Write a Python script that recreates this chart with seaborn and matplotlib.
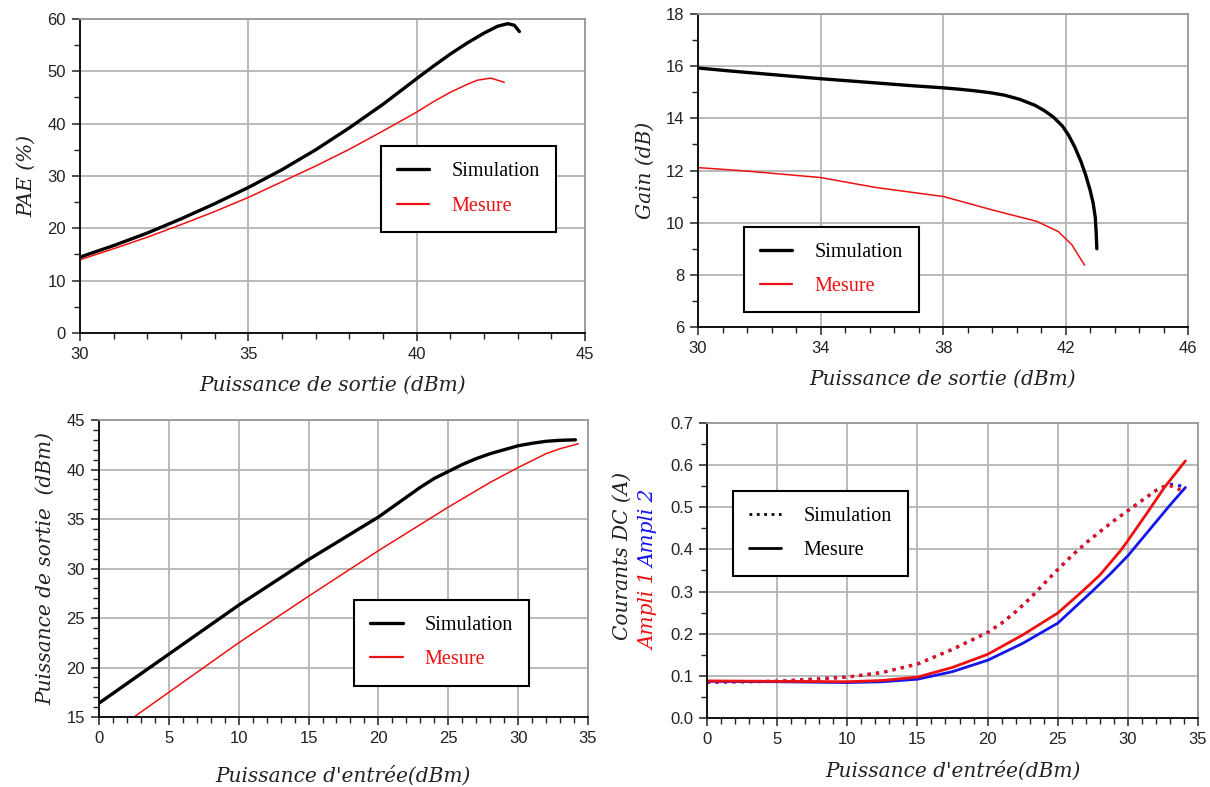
import numpy as np
import pandas as pd
import matplotlib
matplotlib.use("Agg")
import matplotlib.pyplot as plt
from matplotlib.lines import Line2D
from matplotlib.ticker import MultipleLocator, FixedLocator, FormatStrFormatter
import seaborn as sns

# --- PAE vs Pout
pae_sim_x = [30, 31, 32, 33, 34, 35, 36, 37, 38, 39, 40, 40.5, 41, 41.5, 42, 42.4, 42.7, 42.9, 43.05]
pae_sim_y = [14.5, 16.7, 19.1, 21.8, 24.7, 27.8, 31.2, 35.0, 39.2, 43.7, 48.6, 51.0, 53.3, 55.4, 57.3, 58.6, 59.1, 58.8, 57.6]
pae_mes_x = [30, 31, 32, 33, 34, 35, 36, 37, 38, 39, 40, 40.5, 41, 41.5, 41.8, 42.2, 42.6]
pae_mes_y = [14.0, 16.1, 18.3, 20.7, 23.2, 25.9, 28.9, 31.9, 35.1, 38.6, 42.2, 44.2, 46.0, 47.5, 48.3, 48.7, 47.9]

# --- Gain vs Pout
gain_sim_x = [30, 31, 32, 33, 34, 35, 36, 37, 38, 38.5, 39, 39.5, 40, 40.5, 41, 41.3, 41.6, 41.9,
              42.1, 42.3, 42.5, 42.65, 42.8, 42.9, 42.97, 43.0, 43.02]
gain_sim_y = [15.93, 15.82, 15.72, 15.62, 15.52, 15.43, 15.34, 15.25, 15.17, 15.12, 15.06, 14.99, 14.89,
              14.73, 14.5, 14.3, 14.05, 13.7, 13.35, 12.9, 12.35, 11.85, 11.25, 10.75, 10.2, 9.6, 9.0]
gain_mes_x = [30, 31.37, 34, 35.8, 38.02, 39.6, 41.06, 41.76, 42.2, 42.62]
gain_mes_y = [12.11, 12.0, 11.73, 11.35, 11.0, 10.49, 10.05, 9.66, 9.16, 8.37]

# --- Pout vs Pin
pout_sim_x = [0, 5, 10, 15, 20, 23, 24, 25, 26, 27, 28, 29, 30, 31, 32, 33, 34.1]
pout_sim_y = [16.4, 21.35, 26.3, 30.9, 35.2, 38.2, 39.1, 39.8, 40.5, 41.1, 41.6, 42.0, 42.4, 42.65, 42.85, 42.95, 43.0]
pout_mes_x = [2.5, 5, 10, 15, 20, 25, 28, 29, 30, 31, 32, 33, 34.3]
pout_mes_y = [15.0, 17.5, 22.5, 27.2, 31.8, 36.2, 38.7, 39.45, 40.2, 40.9, 41.6, 42.1, 42.6]

# --- DC currents vs Pin (Ampli 1 / Ampli 2)
i1_mes_x = [0, 5, 10, 12.5, 15, 17.5, 20, 22.5, 25, 26.6, 28.0, 29.5, 30, 31.4, 32.6, 34.1]
i1_mes_y = [0.088, 0.087, 0.086, 0.089, 0.097, 0.12, 0.151, 0.197, 0.249, 0.296, 0.339, 0.398, 0.421, 0.488, 0.547, 0.610]
i2_mes_x = [0, 5, 10, 12.5, 15, 17.5, 20, 22.5, 25, 27.5, 28.75, 30, 31, 32, 33, 34.1]
i2_mes_y = [0.087, 0.086, 0.084, 0.086, 0.092, 0.11, 0.137, 0.177, 0.225, 0.302, 0.342, 0.385, 0.425, 0.465, 0.505, 0.547]
sim_x = [0, 5, 10, 12.5, 15, 17.5, 20, 21, 22, 23, 24, 25, 26, 27, 28, 29, 30, 31, 32, 32.8, 33.3]
sim_y = [0.085, 0.087, 0.097, 0.108, 0.128, 0.163, 0.203, 0.225, 0.252, 0.283, 0.318, 0.352, 0.385,
         0.415, 0.442, 0.468, 0.492, 0.516, 0.540, 0.553, 0.555]
i1_sim_x = sim_x + [34.0]
i1_sim_y = sim_y[:-1] + [0.548, 0.537]
i2_sim_x = sim_x + [34.1]
i2_sim_y = sim_y + [0.547]

sns.set_style("white")
plt.rcParams["font.family"] = ["Liberation Sans", "DejaVu Sans"]

fig = plt.figure(figsize=(12.1, 7.87), dpi=100)
ax1 = fig.add_axes([0.0661, 0.5769, 0.4174, 0.399])
ax2 = fig.add_axes([0.5769, 0.5845, 0.405, 0.3977])
ax3 = fig.add_axes([0.0818, 0.0889, 0.4041, 0.3774])
ax4 = fig.add_axes([0.5843, 0.0877, 0.4058, 0.3748])

RED = "#ee1111"
BLUE = "#1515ee"
lab_font = dict(family="DejaVu Serif", style="italic", fontsize=14.5, color="#222222")
leg_font = {"family": "Liberation Serif", "size": 14.5}


def style(ax, xlim, ylim, xmaj, xmin, ymaj, ymin):
    ax.set_xlim(*xlim)
    ax.set_ylim(*ylim)
    ax.xaxis.set_major_locator(FixedLocator(np.arange(xlim[0], xlim[1] + 1e-6, xmaj)))
    ax.xaxis.set_minor_locator(FixedLocator(np.arange(xlim[0], xlim[1] + 1e-6, xmin)))
    ax.yaxis.set_major_locator(MultipleLocator(ymaj))
    ax.yaxis.set_minor_locator(MultipleLocator(ymin))
    ax.grid(True, which="major", color="#b4b4b4", lw=1.3)
    ax.set_axisbelow(True)
    ax.tick_params(which="both", direction="out", bottom=True, left=True,
                   labelsize=12, colors="#222222", pad=4)
    ax.tick_params(which="major", length=6, width=1.1)
    ax.tick_params(which="minor", length=4, width=1.0)
    for s in ["left", "bottom"]:
        ax.spines[s].set_color("#111111")
        ax.spines[s].set_linewidth(1.4)
    for s in ["top", "right"]:
        ax.spines[s].set_color("#999999")
        ax.spines[s].set_linewidth(1.3)


def legend(ax, handles, labels, colors, loc):
    leg = ax.legend(handles, labels, loc="upper left", bbox_to_anchor=loc, prop=leg_font,
                    frameon=True, fancybox=False, handlelength=1.6, handletextpad=1.1,
                    borderpad=0.8, labelspacing=0.75, borderaxespad=0)
    leg.get_frame().set_edgecolor("black")
    leg.get_frame().set_linewidth(1.5)
    leg.get_frame().set_alpha(1)
    for t, c in zip(leg.get_texts(), colors):
        t.set_color(c)


sim_mes = [Line2D([], [], color="black", lw=2.4), Line2D([], [], color=RED, lw=1.6)]

# panel 1
sns.lineplot(x=pae_sim_x, y=pae_sim_y, ax=ax1, color="black", lw=2.4)
sns.lineplot(x=pae_mes_x, y=pae_mes_y, ax=ax1, color=RED, lw=1.1)
style(ax1, (30, 45), (0, 60), 5, 1, 10, 5)
ax1.set_xlabel("Puissance de sortie (dBm)", labelpad=10, **lab_font)
ax1.set_ylabel("PAE (%)", labelpad=8, **lab_font)
legend(ax1, sim_mes, ["Simulation", "Mesure"], ["black", RED], (0.596, 0.595))

# panel 2
sns.lineplot(x=gain_sim_x, y=gain_sim_y, ax=ax2, color="black", lw=2.4, sort=False)
sns.lineplot(x=gain_mes_x, y=gain_mes_y, ax=ax2, color=RED, lw=1.1, sort=False)
style(ax2, (30, 46), (6, 18), 4, 0.8, 2, 1)
ax2.set_xlabel("Puissance de sortie (dBm)", labelpad=10, **lab_font)
ax2.set_ylabel("Gain (dB)", labelpad=8, **lab_font)
legend(ax2, sim_mes, ["Simulation", "Mesure"], ["black", RED], (0.094, 0.32))

# panel 3
sns.lineplot(x=pout_sim_x, y=pout_sim_y, ax=ax3, color="black", lw=2.4)
sns.lineplot(x=pout_mes_x, y=pout_mes_y, ax=ax3, color=RED, lw=1.1)
style(ax3, (0, 35), (15, 45), 5, 1, 5, 1)
ax3.set_xlabel("Puissance d'entrée(dBm)", labelpad=14, **lab_font)
ax3.set_ylabel("Puissance de sortie  (dBm)", labelpad=8, **lab_font)
legend(ax3, sim_mes, ["Simulation", "Mesure"], ["black", RED], (0.522, 0.394))

# panel 4
sns.lineplot(x=i2_sim_x, y=i2_sim_y, ax=ax4, color=BLUE, lw=2.3, linestyle=":")
sns.lineplot(x=i1_sim_x, y=i1_sim_y, ax=ax4, color=RED, lw=2.3, linestyle=":")
sns.lineplot(x=i2_mes_x, y=i2_mes_y, ax=ax4, color=BLUE, lw=2.0)
sns.lineplot(x=i1_mes_x, y=i1_mes_y, ax=ax4, color=RED, lw=2.0)
style(ax4, (0, 35), (0, 0.7), 5, 1, 0.1, 0.05)
ax4.yaxis.set_major_formatter(FormatStrFormatter("%.1f"))
ax4.set_xlabel("Puissance d'entrée(dBm)", labelpad=10, **lab_font)
legend(ax4, [Line2D([], [], color="black", lw=2.0, linestyle=":"), Line2D([], [], color="black", lw=2.0)],
       ["Simulation", "Mesure"], ["black", "black"], (0.053, 0.77))
ax4.text(-0.172, 0.55, "Courants DC (A)", transform=ax4.transAxes, rotation=90,
         ha="center", va="center", **lab_font)
ax4.text(-0.118, 0.365, "Ampli 1", transform=ax4.transAxes, rotation=90,
         ha="center", va="center", **{**lab_font, "color": RED})
ax4.text(-0.118, 0.64, "Ampli 2", transform=ax4.transAxes, rotation=90,
         ha="center", va="center", **{**lab_font, "color": BLUE})

fig.savefig("out.png", dpi=100)
